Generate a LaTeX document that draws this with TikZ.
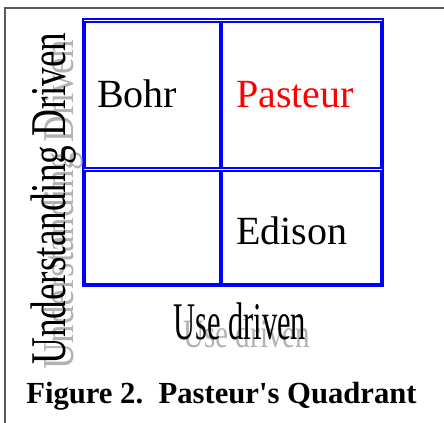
\documentclass[tikz,border=0pt]{standalone}
\usepackage{fontspec}
\setmainfont{Liberation Serif}
\usepackage{graphicx}
\definecolor{shadowgray}{gray}{0.7}
\definecolor{framegray}{gray}{0.35}
\definecolor{qblue}{RGB}{0,0,255}
\tikzset{
  tbl/.style={draw=qblue,line width=1.5pt},
  celltext/.style={inner sep=0pt,anchor=base west,font=\fontsize{30pt}{36pt}\selectfont},
  axislabel/.style={inner sep=0pt,anchor=base west,font=\fontsize{39.7pt}{44pt}\selectfont},
  sideaxis/.style={inner sep=0pt,anchor=base west,rotate=90,font=\fontsize{37.5pt}{42pt}\selectfont},
}
\begin{document}
\begin{tikzpicture}[x=0.75pt,y=-0.75pt]
\useasboundingbox (0,0) rectangle (444,423);
% outer frame
\draw[framegray,line width=1.3pt] (5,423) -- (5,8) -- (444,8);
% table
\draw[tbl] (83.3,19.3) rectangle (383.3,286.3);
\draw[tbl] (84.6,22.3) rectangle (220,167.7);
\draw[tbl] (222,22.3) rectangle (380.7,167.7);
\draw[tbl] (84.6,170.8) rectangle (220,283.7);
\draw[tbl] (222,170.8) rectangle (380.7,283.7);
% cell texts
\node[celltext] (bohr) at (97,107.5) {Bohr};
\node[celltext,text=red] (pasteur) at (236,107.5) {Pasteur};
\node[celltext] (edison) at (236,245) {Edison};
% x axis label with shadow
\node[axislabel,text=shadowgray] (useshadow) at (183,348) {\scalebox{0.55}[0.76]{Use driven}};
\node[axislabel] (use) at (173,340) {\scalebox{0.576}[1]{Use driven}};
% y axis label with shadow
\node[sideaxis,text=shadowgray] (undshadow) at (74,370) {\scalebox{0.74}[0.88]{Understanding Driven}};
\node[sideaxis] (und) at (65,365) {\scalebox{0.745}[1]{Understanding Driven}};
% caption
\node[inner sep=0pt,anchor=base west,font=\fontsize{23pt}{28pt}\selectfont\bfseries] (caption) at (26,404) {Figure 2.\ \ Pasteur\textquotesingle s Quadrant};
\end{tikzpicture}
\end{document}
